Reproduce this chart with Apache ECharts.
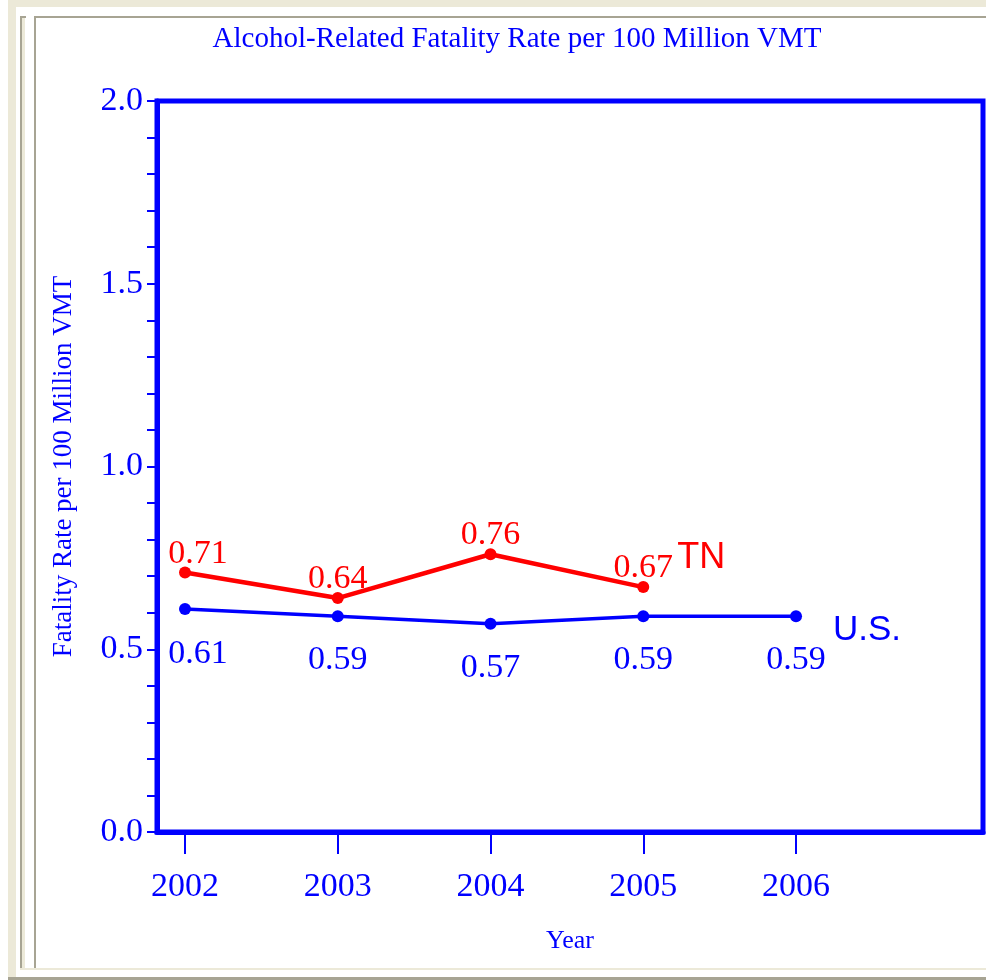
<!DOCTYPE html>
<html>
<head>
<meta charset="utf-8">
<style>
  html, body { margin: 0; padding: 0; background: #ffffff; }
  #chart { width: 986px; height: 980px; }
</style>
<script src="https://cdn.jsdelivr.net/npm/echarts@6/dist/echarts.min.js"></script>
</head>
<body>
<div id="chart"></div>
<script>
// ---- data ----
var years = [2002, 2003, 2004, 2005, 2006];
var tnYears = [2002, 2003, 2004, 2005];
var tnValues = [0.71, 0.64, 0.76, 0.67];
var usValues = [0.61, 0.59, 0.57, 0.59, 0.59];
var yTickValues = [0, 0.5, 1.0, 1.5, 2.0];
var chartTitle = 'Alcohol-Related Fatality Rate per 100 Million VMT';
var yAxisTitle = 'Fatality Rate per 100 Million VMT';
var xAxisTitle = 'Year';
var tnName = 'TN';
var usName = 'U.S.';

var BLUE = '#0000FF';
var RED = '#FF0000';
var BEIGE = '#ECE9D8';
var GRAY = '#A7A493';
var SERIF = '"Liberation Serif", "Times New Roman", serif';
var SANS = '"Liberation Sans", Arial, sans-serif';

function pairs(xs, ys, firstOffset, otherOffset) {
  return ys.map(function (v, i) {
    return { value: [xs[i], v], label: { offset: i === 0 ? firstOffset : otherOffset } };
  });
}

var chart = echarts.init(document.getElementById('chart'), null, { renderer: 'canvas' });
chart.setOption({
  animation: false,
  backgroundColor: '#ffffff',
  title: {
    text: chartTitle,
    left: 512, top: 20, textAlign: 'center',
    textStyle: { color: BLUE, fontFamily: SERIF, fontWeight: 'normal', fontSize: 29 }
  },
  graphic: [
    { type: 'rect', shape: { x: 8, y: 0, width: 8, height: 978 }, style: { fill: BEIGE }, silent: true },
    { type: 'rect', shape: { x: 8, y: 0, width: 978, height: 7 }, style: { fill: BEIGE }, silent: true },
    { type: 'rect', shape: { x: 20, y: 16, width: 966, height: 2 }, style: { fill: GRAY }, silent: true },
    { type: 'rect', shape: { x: 26, y: 16, width: 8, height: 2 }, style: { fill: '#ffffff' }, silent: true },
    { type: 'rect', shape: { x: 20, y: 16, width: 2, height: 952 }, style: { fill: GRAY }, silent: true },
    { type: 'rect', shape: { x: 22, y: 18, width: 3, height: 950 }, style: { fill: BEIGE }, silent: true },
    { type: 'rect', shape: { x: 34, y: 16, width: 2, height: 952 }, style: { fill: GRAY }, silent: true },
    { type: 'rect', shape: { x: 20, y: 968, width: 966, height: 2 }, style: { fill: BEIGE }, silent: true },
    { type: 'rect', shape: { x: 8, y: 977, width: 978, height: 3 }, style: { fill: GRAY }, silent: true }
  ],
  grid: {
    left: 157, right: 3, top: 101, bottom: 148,
    show: true, borderColor: BLUE, borderWidth: 5, backgroundColor: 'transparent',
    containLabel: false
  },
  xAxis: {
    type: 'value',
    min: 2001.8167, max: 2007.224,
    name: xAxisTitle, nameLocation: 'middle', nameGap: 96,
    nameTextStyle: { color: BLUE, fontFamily: SERIF, fontSize: 26 },
    axisLine: { show: true, lineStyle: { color: BLUE, width: 5 } },
    axisTick: { show: true, customValues: years, length: 22, lineStyle: { color: BLUE, width: 2 } },
    axisLabel: {
      show: true, customValues: years, margin: 38,
      color: BLUE, fontFamily: SERIF, fontSize: 34,
      formatter: function (v) { return String(Math.round(v)); }
    },
    splitLine: { show: false }
  },
  yAxis: {
    type: 'value', min: 0, max: 2, interval: 0.5,
    name: yAxisTitle, nameLocation: 'middle', nameGap: 80, nameRotate: 90,
    nameTextStyle: { color: BLUE, fontFamily: SERIF, fontSize: 27 },
    axisLine: { show: true, lineStyle: { color: BLUE, width: 5 } },
    axisTick: { show: true, length: 10, lineStyle: { color: BLUE, width: 2 } },
    minorTick: { show: true, splitNumber: 5, length: 10, lineStyle: { color: BLUE, width: 2 } },
    axisLabel: {
      margin: 14, color: BLUE, fontFamily: SERIF, fontSize: 34,
      formatter: function (v) { return v.toFixed(1); }
    },
    splitLine: { show: false }
  },
  series: [
    {
      name: tnName, type: 'line',
      data: pairs(tnYears, tnValues, [13, -18], [0, -19]),
      symbol: 'circle', symbolSize: 12,
      lineStyle: { color: RED, width: 4.5 },
      itemStyle: { color: RED },
      label: {
        show: true, position: 'inside', color: RED, fontFamily: SERIF, fontSize: 34,
        formatter: function (p) { return p.value[1].toFixed(2); }
      },
      endLabel: {
        show: true, formatter: tnName, distance: 0, offset: [34, -29],
        color: RED, fontFamily: SANS, fontSize: 36
      },
      z: 3
    },
    {
      name: usName, type: 'line',
      data: pairs(years, usValues, [13, 45], [0, 44]),
      symbol: 'circle', symbolSize: 12,
      lineStyle: { color: BLUE, width: 3.5 },
      itemStyle: { color: BLUE },
      label: {
        show: true, position: 'inside', color: BLUE, fontFamily: SERIF, fontSize: 34,
        formatter: function (p) { return p.value[1].toFixed(2); }
      },
      endLabel: {
        show: true, formatter: usName, distance: 0, offset: [37, 14],
        color: BLUE, fontFamily: SANS, fontSize: 35
      },
      z: 2
    }
  ]
});
</script>
</body>
</html>
